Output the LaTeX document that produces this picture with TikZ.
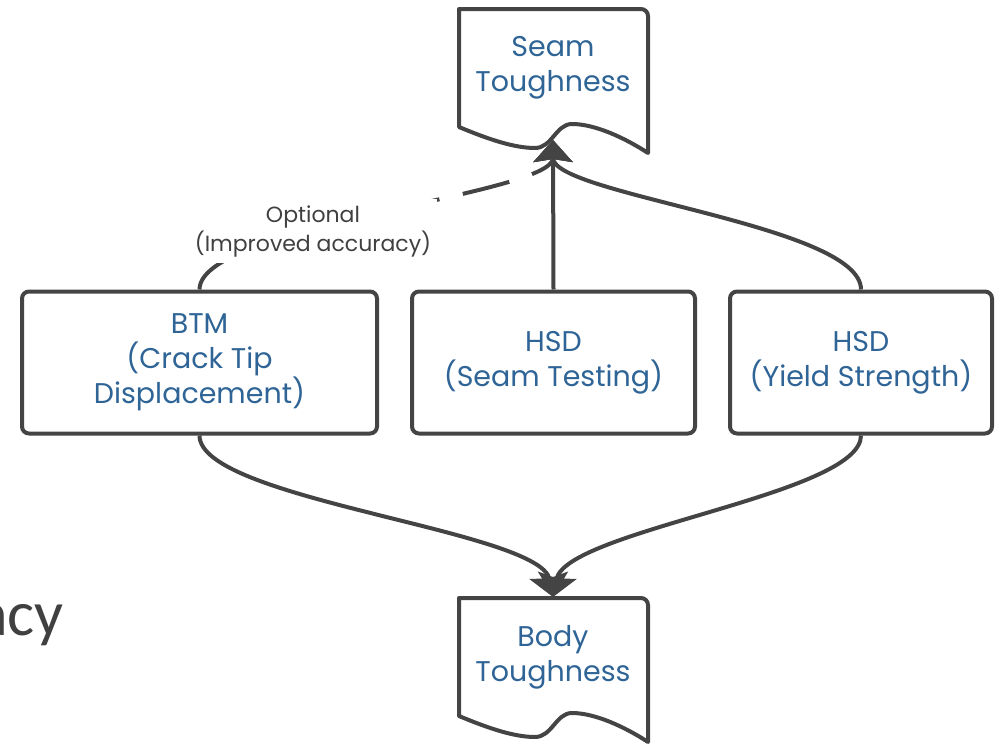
\documentclass[tikz,border=0pt]{standalone}
\usepackage{fontspec}
\setmainfont{Poppins}
\newfontfamily\calib{Carlito}
\usetikzlibrary{arrows.meta}
\definecolor{ink}{HTML}{444444}
\definecolor{txt}{HTML}{2F6496}
\definecolor{lbl}{HTML}{404040}
\begin{document}
\begin{tikzpicture}[x=1pt,y=-1pt,
  box/.style={draw=ink, line width=4pt, rounded corners=7pt, fill=white, text=txt, align=center,
    font=\fontsize{28.5}{35}\selectfont, inner sep=0pt, minimum height=142pt},
  doc/.style={draw=ink, line width=4pt, fill=white, line join=round},
  doctext/.style={text=txt, align=center, font=\fontsize{28.5}{35}\selectfont, inner sep=0pt},
  conn/.style={draw=ink, line width=4pt, -{Stealth[length=22pt,width=39pt,inset=3pt]}},
  lab/.style={text=lbl, align=center, font=\fontsize{22}{29}\selectfont, fill=white, inner sep=6pt}
]
\useasboundingbox (0,0) rectangle (997,744);
% documents
\draw[doc] (459,127) -- (459,9) [rounded corners=7pt] -- (648,9) [sharp corners] -- (648,153)
  .. controls (625,138) and (595,124) .. (572,124)
  .. controls (556,124) and (552,148) .. (535,148)
  .. controls (515,148) and (490,140) .. (459,127) -- cycle;
\draw[doc] (459,716) -- (459,598) [rounded corners=7pt] -- (648,598) [sharp corners] -- (648,742)
  .. controls (625,727) and (595,713) .. (572,713)
  .. controls (556,713) and (552,737) .. (535,737)
  .. controls (515,737) and (490,729) .. (459,716) -- cycle;
\node[doctext] (seam) at (553,68) {Seam\\Toughness};
\node[doctext] (body) at (553,657) {Body\\Toughness};
\coordinate (seamtip) at (553,140);
\coordinate (bodytip) at (553,597);
% boxes
\node[box, minimum width=355pt] (btm) at (199.5,362.5) {BTM\\(Crack Tip\\Displacement)};
\node[box, minimum width=283pt] (hsds) at (553.5,362.5) {HSD\\(Seam Testing)};
\node[box, minimum width=262pt] (hsdy) at (861,362.5) {HSD\\(Yield Strength)};
% connectors
\draw[conn] (hsdy.north) .. controls (861,225) and (553,195) .. (seamtip);
\draw[conn, dash pattern=on 48pt off 24pt] (btm.north) .. controls (199.5,225) and (553,195) .. (seamtip);
\draw[conn] (hsds.north) -- (seamtip);
\draw[conn] (btm.south) .. controls (199.5,500) and (540,530) .. (bodytip);
\draw[conn] (hsdy.south) .. controls (861,495) and (566,530) .. (bodytip);
\node[lab] (opt) at (313,231) {Optional\\(Improved accuracy)};
\node[font=\calib\fontsize{64}{70}\selectfont, text=lbl, anchor=base east, inner sep=0pt] (acy) at (64,635) {acy};
\end{tikzpicture}
\end{document}
